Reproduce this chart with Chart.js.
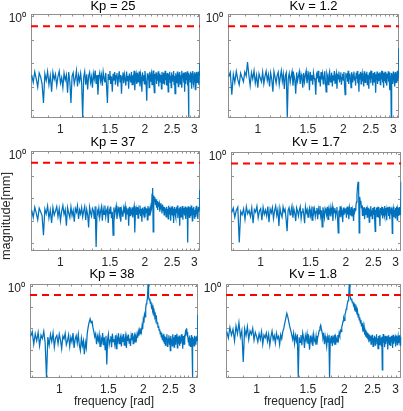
<!DOCTYPE html>
<html><head><meta charset="utf-8">
<script src="https://cdn.jsdelivr.net/npm/chart.js@4.4.0/dist/chart.umd.min.js"></script>
<style>
html,body{margin:0;padding:0;background:#fff;}
#wrap{position:relative;width:403px;height:411px;overflow:hidden;background:#fff;font-family:'Liberation Sans',Arial,Helvetica,sans-serif;color:#000;}
canvas{position:absolute;left:0;top:0;}
.t{position:absolute;width:200px;text-align:center;font-size:13px;line-height:13px;white-space:nowrap;color:#000;}
.xl{position:absolute;width:200px;text-align:center;font-size:12px;line-height:12px;white-space:nowrap;color:#262626;}
.yl{position:absolute;width:140px;text-align:center;font-size:12.8px;line-height:12px;white-space:nowrap;color:#262626;transform:rotate(-90deg);}
</style></head><body><div id="wrap"></div>
<script>
// ---------------- data ----------------
const panelTitles = ['Kp = 25','Kv = 1.2','Kp = 37','Kv = 1.7','Kp = 38','Kv = 1.8'];
const xLabel = 'frequency [rad]';
const yLabel = 'magnitude[mm]';
const xTickValues = [1,1.5,2,2.5,3];
const xTickLabels = ['1','1.5','2','2.5','3'];
const xMinorTicks = [0.8,0.9,1,1.1,1.2,1.3,1.4,1.5,1.6,1.7,1.8,1.9,2,2.1,2.2,2.3,2.4,2.5,2.6,2.7,2.8,2.9,3,3.1];
const yTickValues = [1,0.1,0.01,0.001,0.0001];
const yTickLabels = ['10\u2070','','','',''];
const UNIT = 1e-5; // magnitudes below are in units of 1e-5 mm
const threshold = [37000,37000,37000,37000,37000,37000];
const freq = [
0.79,0.8,0.81,0.82,0.83,0.84,0.85,0.86,0.87,0.88,
0.89,0.9,0.91,0.92,0.93,0.94,0.95,0.96,0.97,0.98,
0.99,1,1.01,1.02,1.03,1.04,1.05,1.06,1.07,1.08,
1.09,1.1,1.11,1.12,1.13,1.14,1.15,1.16,1.17,1.18,
1.19,1.2,1.21,1.22,1.23,1.24,1.25,1.26,1.27,1.28,
1.29,1.3,1.31,1.32,1.33,1.34,1.35,1.36,1.37,1.38,
1.39,1.4,1.41,1.42,1.43,1.44,1.45,1.46,1.47,1.48,
1.49,1.5,1.51,1.52,1.53,1.54,1.55,1.56,1.57,1.58,
1.59,1.6,1.61,1.62,1.63,1.64,1.65,1.66,1.67,1.68,
1.69,1.7,1.71,1.72,1.73,1.74,1.75,1.76,1.77,1.78,
1.79,1.8,1.81,1.82,1.83,1.84,1.85,1.86,1.87,1.88,
1.89,1.9,1.91,1.92,1.93,1.94,1.95,1.96,1.97,1.98,
1.99,2,2.01,2.02,2.03,2.04,2.05,2.06,2.07,2.08,
2.09,2.1,2.11,2.12,2.13,2.14,2.15,2.16,2.17,2.18,
2.19,2.2,2.21,2.22,2.23,2.24,2.25,2.26,2.27,2.28,
2.29,2.3,2.31,2.32,2.33,2.34,2.35,2.36,2.37,2.38,
2.39,2.4,2.41,2.42,2.43,2.44,2.45,2.46,2.47,2.48,
2.49,2.5,2.51,2.52,2.53,2.54,2.55,2.56,2.57,2.58,
2.59,2.6,2.61,2.62,2.63,2.64,2.65,2.66,2.67,2.68,
2.69,2.7,2.71,2.72,2.73,2.74,2.75,2.76,2.77,2.78,
2.79,2.8,2.81,2.82,2.83,2.84,2.85,2.86,2.87,2.88,
2.89,2.9,2.91,2.92,2.93,2.94,2.95,2.96,2.97,2.98,
2.99,3,3.01,3.02,3.03,3.04,3.05,3.06,3.07,3.08,
3.09,3.1,3.11,3.12,3.13,3.14];

const magKp25 = [
310,150,420,210,95,380,260,130,20,350,
180,440,120,290,60,400,200,330,110,270,
450,140,240,90,370,190,310,55,410,160,
20,280,390,130,220,470,100,300,170,360,
140,5,250,430,120,330,75,280,400,150,
260,90,360,210,480,130,310,45,250,390,
170,300,110,420,230,150,380,95,20,340,
200,460,130,270,60,350,180,410,120,290,
380,100,240,450,160,310,50,270,400,140,
330,210,110,440,180,290,80,360,230,150,
420,120,300,190,470,70,260,350,130,390,
160,280,440,100,330,220,60,400,180,300,
130,460,240,110,25,370,200,320,90,430,
170,290,380,120,250,480,150,55,340,210,
400,130,300,180,450,100,270,360,160,310,
80,420,220,140,390,260,120,470,190,330,
110,380,240,60,350,200,430,150,290,90,
400,170,320,230,460,120,280,50,370,190,
310,140,440,210,100,360,250,420,130,300,
180,470,90,330,220,390,150,280,60,410,
240,130,350,190,450,110,300,5,380,200,
320,160,430,240,80,370,210,460,140,290,
110,400,260,180,340,70,420,230,150,360,
200,440,120,310,380,1000];

const magKv12 = [
260,400,45,330,150,440,200,120,370,240,
160,420,280,1100,310,110,390,210,470,140,
300,90,350,230,160,410,130,270,450,180,
320,100,380,200,60,430,250,140,300,410,
120,260,470,170,340,80,290,390,5,220,
360,150,280,440,110,310,200,50,400,170,
270,430,130,330,210,90,380,160,300,460,
140,250,350,70,420,190,310,120,390,230,
170,45,330,260,470,150,290,100,410,200,
340,130,240,450,180,60,370,280,120,310,
430,160,220,390,100,300,180,460,140,260,
370,80,330,210,440,150,280,400,120,240,
350,190,420,110,45,300,250,380,160,470,
130,290,360,200,90,410,240,150,330,440,
180,270,110,390,220,460,140,310,60,350,
200,420,130,280,380,170,300,100,450,230,
150,360,260,430,120,320,190,80,400,270,
340,140,470,210,290,110,380,230,160,420,
250,55,330,190,440,130,300,370,170,260,
410,120,280,350,200,460,150,240,90,390,
180,310,430,140,270,360,110,330,220,450,
160,290,70,400,240,170,5,380,210,300,
130,440,260,190,350,100,410,280,150,320,
230,460,170,360,290,4200];

const magKp37 = [
290,140,400,220,110,360,250,170,23,330,
200,450,130,300,80,390,180,270,420,150,
340,100,260,470,190,310,60,380,220,140,
410,170,290,90,350,240,460,120,300,200,
380,150,270,430,110,320,190,50,400,230,
160,350,280,120,440,7,300,210,370,140,
260,410,100,330,190,470,150,280,360,80,
310,200,430,130,250,23,390,170,300,460,
120,280,350,190,410,90,320,230,150,380,
270,440,110,300,200,360,60,420,170,290,
230,390,140,310,450,30,260,350,180,400,
130,300,220,470,160,340,90,380,250,190,
420,140,310,230,360,110,450,200,280,170,
390,260,330,1500,2800,32,1300,700,1100,500,
900,380,750,300,650,420,560,250,600,320,
480,210,520,280,430,180,400,300,350,150,
420,230,330,120,460,270,190,380,100,310,
250,440,170,350,80,290,410,200,330,140,
390,220,470,130,300,180,360,60,420,240,
150,330,280,450,110,370,200,300,170,430,
260,120,380,210,310,11,440,190,350,140,
290,400,160,330,230,470,100,360,250,180,
420,130,300,220,390,150,460,200,280,340,
120,410,250,310,380,2300];

const magKv17 = [
240,380,150,300,420,11,270,190,350,120,
440,210,300,160,390,80,330,250,460,140,
280,360,110,410,200,310,170,450,90,340,
230,400,130,290,470,180,320,60,380,210,
150,430,260,340,120,35,300,400,190,270,
460,140,350,220,100,390,280,170,310,440,
130,260,370,200,80,420,240,330,150,290,
400,180,310,110,450,230,350,160,270,380,
120,340,210,470,170,300,55,410,250,140,
360,280,190,430,120,320,230,390,160,290,
450,100,330,240,380,170,280,420,130,30,
300,210,460,150,350,260,90,400,190,310,
240,370,140,440,200,300,120,390,270,180,
420,160,330,230,100,380,250,310,450,700,
1500,3500,5700,2500,30,1200,600,800,400,500,
180,330,260,410,120,290,360,200,440,150,
310,240,390,90,340,170,460,220,300,130,
380,270,190,430,110,35,320,250,400,160,
290,440,140,350,210,60,380,230,310,180,
420,130,270,360,200,470,150,300,240,390,
110,330,260,410,170,290,440,120,350,220,
300,180,400,28,260,360,150,430,230,310,
140,380,250,190,450,110,330,270,400,170,
300,420,200,350,260,5700];

const magKp38 = [
420,700,180,550,260,640,150,480,330,720,
210,5,390,160,520,240,600,130,350,460,
190,540,280,110,430,320,580,170,260,490,
140,380,230,600,120,310,450,200,520,160,
90,340,150,260,60,220,120,600,1200,2000,
2800,1800,2300,1100,700,400,550,180,420,260,
510,140,330,230,600,160,380,100,450,20,
300,520,170,280,420,130,560,240,310,180,
470,110,350,250,580,190,300,420,140,360,
230,540,160,300,470,120,380,260,510,200,
330,150,440,280,600,190,350,470,230,400,
300,520,360,700,450,800,560,1000,700,1300,
900,2500,1800,4500,3500,9000,14000,18000,26000,120000,
30000,22000,25000,15000,18000,10000,12000,7000,9000,5000,
6000,3500,4200,2500,3000,1600,2000,1100,1300,800,
900,550,700,400,620,300,480,250,560,200,
420,160,380,270,520,140,330,230,470,180,
360,90,440,250,310,150,530,210,380,130,
290,480,170,350,240,560,120,400,200,330,
460,150,280,380,190,520,240,310,110,430,
260,180,500,300,600,450,800,1000,650,400,
520,230,380,160,460,270,140,350,220,490,
180,5,400,260,330,150,450,210,380,280,
170,420,250,360,300,4200];

const magKv18 = [
700,350,1100,480,900,260,1300,550,1850,400,
800,26,950,450,1200,300,750,520,1000,280,
650,420,230,560,300,700,180,480,360,600,
250,520,160,400,740,300,450,200,580,330,
420,170,500,320,700,1000,1800,3000,5100,3500,
2000,1200,800,500,300,580,190,450,260,520,
5,380,220,480,160,600,350,120,440,270,
540,190,330,100,460,240,400,150,520,280,
210,430,170,360,500,800,1100,1400,900,600,
350,480,180,420,260,140,380,230,470,5,
300,200,440,150,350,260,500,180,410,330,
230,480,300,600,450,800,700,1200,1500,2200,
3000,2400,4500,5500,8000,10000,15000,20000,30000,120000,
36000,28000,22000,25000,16000,18000,12000,14000,9000,11000,
6000,8500,4500,6500,3500,4800,2500,3300,1800,2500,
1300,1800,1000,1400,700,1100,500,850,400,700,
350,600,300,520,220,470,260,420,180,380,
330,500,140,360,240,450,160,380,270,520,
190,340,110,430,280,170,480,220,350,150,
400,11,300,540,210,360,130,450,260,180,
420,240,350,100,470,200,310,160,390,280,
150,440,230,360,120,500,270,190,410,250,
330,140,460,220,380,170,300,430,200,350,
260,480,160,400,290,340];

const series = [magKp25, magKv12, magKp37, magKv17, magKp38, magKv18];

// ---------------- layout ----------------
const X_MIN = Math.PI/4, X_MAX = Math.PI;
const Y_MIN = 4.6e-5, Y_MAX = 1.22;
const YW = 26, XH = 22;
// [left, right, top, bottom] of each axes box in page pixels
const boxes = [[31,200,14,118],[228,399,14,118],[31,200,151,251],[231,402,152,251],[30,198,284,378],[226,402,284,378]];
const titlePos = [[113,-1.5],[313.5,-1.5],[113,134.5],[316,134.5],[112,267],[313,267]];
const xLabelPos = [[114,395],[304,395]];
const yLabelPos = [6,216];

Chart.defaults.font.family = "'Liberation Sans', Arial, Helvetica, sans-serif";
Chart.defaults.color = '#262626';

const wrap = document.getElementById('wrap');

const boxPlugin = {
  id: 'boxTicks',
  beforeDatasetsDraw(chart) {
    const {ctx, chartArea: a, scales: {x, y}} = chart;
    ctx.save();
    ctx.strokeStyle = '#8f8f8f';
    ctx.lineWidth = 1;
    const l = Math.round(a.left) + 0.5, r = Math.round(a.right) - 0.5;
    const t = Math.round(a.top) + 0.5, b = Math.round(a.bottom) - 0.5;
    ctx.strokeRect(l, t, r - l, b - t);
    ctx.beginPath();
    xMinorTicks.forEach(v => {
      const p = Math.round(x.getPixelForValue(v)) + 0.5;
      ctx.moveTo(p, b); ctx.lineTo(p, b - 2);
      ctx.moveTo(p, t); ctx.lineTo(p, t + 2);
    });
    yTickValues.forEach(v => {
      const p = Math.round(y.getPixelForValue(v)) + 0.5;
      ctx.moveTo(l, p); ctx.lineTo(l + 2.5, p);
      ctx.moveTo(r, p); ctx.lineTo(r - 2.5, p);
    });
    ctx.stroke();
    ctx.restore();
  }
};

series.forEach((vals, i) => {
  const c = document.createElement('canvas');
  c.width = 403; c.height = 411;
  wrap.appendChild(c);
  const [L, R, T, B] = boxes[i];
  const pts = freq.map((f, k) => ({x: f, y: vals[k] * UNIT}));
  new Chart(c, {
    type: 'line',
    data: {datasets: [
      {data: [{x: X_MIN, y: threshold[i] * UNIT}, {x: X_MAX, y: threshold[i] * UNIT}],
       borderColor: '#ff0000', borderWidth: 2, borderDash: [7, 5], pointRadius: 0, order: 1, clip: 0},
      {data: pts, borderColor: '#0072BD', borderWidth: 1.25, pointRadius: 0, tension: 0, order: 2, clip: 0}
    ]},
    options: {
      responsive: false, animation: false, devicePixelRatio: 1,
      layout: {padding: {left: L - YW, right: 403 - R, top: T, bottom: 411 - B - XH}},
      plugins: {legend: {display: false}, tooltip: {enabled: false}, title: {display: false}},
      scales: {
        x: {
          type: 'logarithmic', min: X_MIN, max: X_MAX,
          afterBuildTicks: s => { s.ticks = xTickValues.map(v => ({value: v})); },
          afterFit: s => { s.height = XH; },
          grid: {display: false, drawTicks: false}, border: {display: false},
          ticks: {autoSkip: false, maxRotation: 0, minRotation: 0, padding: 4, font: {size: 12},
                  callback: (v, idx) => xTickLabels[idx]}
        },
        y: {
          type: 'logarithmic', min: Y_MIN, max: Y_MAX,
          afterBuildTicks: s => { s.ticks = yTickValues.map(v => ({value: v})); },
          afterFit: s => { s.width = YW; },
          grid: {display: false, drawTicks: false}, border: {display: false},
          ticks: {autoSkip: false, padding: 5, labelOffset: 3, font: {size: 12},
                  callback: (v, idx) => yTickLabels[idx]}
        }
      }
    },
    plugins: [boxPlugin]
  });
});

panelTitles.forEach((txt, i) => {
  const d = document.createElement('div');
  d.className = 't'; d.textContent = txt;
  d.style.left = (titlePos[i][0] - 100) + 'px';
  d.style.top = titlePos[i][1] + 'px';
  wrap.appendChild(d);
});
xLabelPos.forEach(p => {
  const d = document.createElement('div');
  d.className = 'xl'; d.textContent = xLabel;
  d.style.left = (p[0] - 100) + 'px'; d.style.top = p[1] + 'px';
  wrap.appendChild(d);
});
const yl = document.createElement('div');
yl.className = 'yl'; yl.textContent = yLabel;
yl.style.left = (yLabelPos[0] - 70) + 'px'; yl.style.top = (yLabelPos[1] - 6) + 'px';
wrap.appendChild(yl);
</script></body></html>
